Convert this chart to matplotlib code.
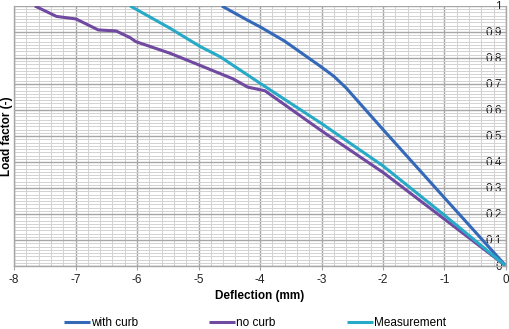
import matplotlib
matplotlib.use("Agg")
import matplotlib.pyplot as plt
import numpy as np
from matplotlib.ticker import MultipleLocator

plt.rcParams["font.family"] = ["Liberation Sans", "DejaVu Sans"]

# Data
with_curb_x = [0.0, -1.0, -2.0, -2.6, -2.8, -3.0, -3.6, -4.0, -4.2, -4.62]
with_curb_y = [0.0, 0.262, 0.525, 0.685, 0.73, 0.765, 0.865, 0.92, 0.945, 1.0]

no_curb_x = [0.0, -1.0, -2.0, -3.0, -3.92, -4.2, -4.44, -4.98, -5.46, -6.02, -6.11, -6.34, -6.63, -6.99, -7.31, -7.66]
no_curb_y = [0.0, 0.18, 0.36, 0.52, 0.674, 0.688, 0.72, 0.772, 0.818, 0.863, 0.878, 0.904, 0.908, 0.95, 0.96, 1.0]

meas_x = [0.0, -1.0, -2.0, -3.0, -4.0, -4.65, -4.98, -5.46, -6.11]
meas_y = [0.0, 0.195, 0.385, 0.548, 0.703, 0.805, 0.845, 0.914, 1.0]

labels = ["with curb", "no curb", "Measurement"]
colors = ["#3469B9", "#7049A0", "#27AAC7"]

fig = plt.figure(figsize=(5.10, 3.29), dpi=100)
ax = fig.add_axes([14/510, 1-266/329, (506-14)/510, (266-6)/329])

ax.set_xlim(-8, 0)
ax.set_ylim(0, 1)

ax.xaxis.set_major_locator(MultipleLocator(1))
ax.xaxis.set_minor_locator(MultipleLocator(0.2))
ax.yaxis.set_major_locator(MultipleLocator(0.1))
ax.yaxis.set_minor_locator(MultipleLocator(0.0125))

ax.grid(which="minor", color="#D2D2D2", linewidth=0.7)
ax.grid(which="major", color="#A6A6A6", linewidth=1.0)
ax.set_axisbelow(True)

for xs, ys, lab, c in zip([with_curb_x, no_curb_x, meas_x],
                          [with_curb_y, no_curb_y, meas_y], labels, colors):
    ax.plot(xs, ys, color=c, linewidth=2.2, label=lab, solid_capstyle="butt")

ax.spines["top"].set_visible(False)
for s in ["left", "right", "bottom"]:
    ax.spines[s].set_color("#A6A6A6")
    ax.spines[s].set_linewidth(1.0)

# y tick labels on right axis (at x=0), drawn left of it
ax.yaxis.tick_right()
ax.set_yticks(np.round(np.arange(0, 1.01, 0.1), 2))
ax.set_yticklabels(["0", "0.1", "0.2", "0.3", "0.4", "0.5", "0.6", "0.7", "0.8", "0.9", "1"])
ax.tick_params(axis="y", which="both", length=0, pad=-3, labelsize=8.5, labelcolor="#222222")
for t in ax.get_yticklabels():
    t.set_horizontalalignment("right")

ax.set_xticks(range(-8, 1))
ax.set_xticklabels([str(v) for v in range(-8, 1)])
ax.tick_params(axis="x", which="major", length=3, color="#A6A6A6", labelsize=8.5, pad=3, labelcolor="#222222")
ax.tick_params(axis="x", which="minor", length=0)

ax.set_xlabel("Deflection (mm)", fontsize=8.5, fontweight="bold", labelpad=3)
fig.text(7/510, 1-136/329, "Load factor (-)", rotation=90, fontsize=8.5,
         fontweight="bold", ha="center", va="center")

leg = fig.legend(loc="center", bbox_to_anchor=(0.5, 1-323/329), ncol=3, frameon=False,
                 fontsize=8.5, handlelength=2.2, handletextpad=0.1, columnspacing=6.0)

fig.savefig("out.png", dpi=100)
